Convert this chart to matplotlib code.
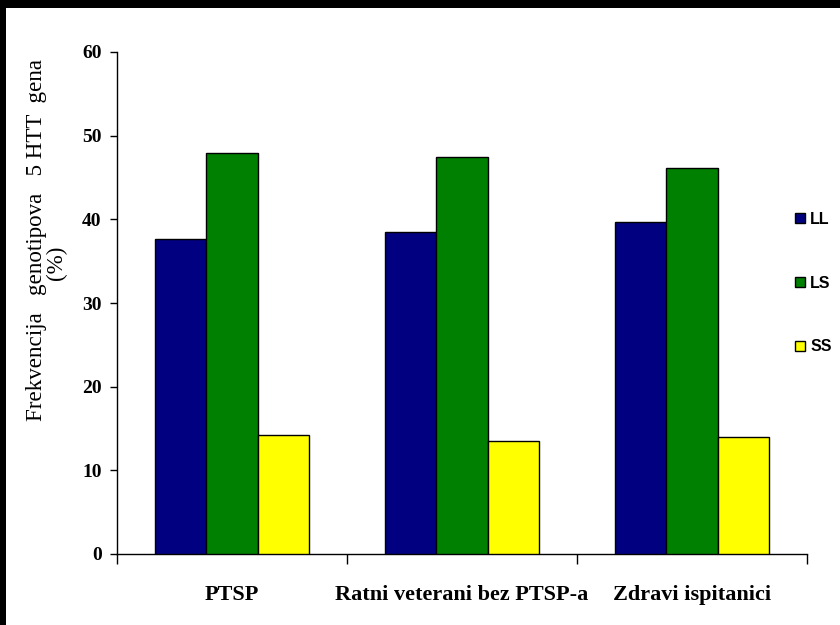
import matplotlib
matplotlib.use("Agg")
import matplotlib.pyplot as plt
import numpy as np
from matplotlib.patches import Rectangle

categories = ["PTSP", "Ratni veterani bez PTSP-a", "Zdravi ispitanici"]
series_names = ["LL", "LS", "SS"]
LL = [37.6, 38.5, 39.7]
LS = [47.9, 47.5, 46.1]
SS = [14.2, 13.5, 14.0]
yticks = [0, 10, 20, 30, 40, 50, 60]
colors = ["#000080", "#008000", "#FFFF00"]

fig = plt.figure(figsize=(8.4, 6.25), dpi=100)
fig.patch.set_facecolor("white")
# black frame on top and left
fig.patches.append(Rectangle((0, 1 - 8 / 625), 1, 8 / 625, transform=fig.transFigure,
                             facecolor="black", edgecolor="none", zorder=10))
fig.patches.append(Rectangle((0, 0), 6 / 840, 1, transform=fig.transFigure,
                             facecolor="black", edgecolor="none", zorder=10))

ax = fig.add_axes([117 / 840, 71 / 625, (807 - 117) / 840, (554 - 52) / 625])

x = np.arange(len(categories))
w = 1 / 4.5
for i, (vals, name, c) in enumerate(zip([LL, LS, SS], series_names, colors)):
    ax.bar(x + (i - 1) * w, vals, width=w, color=c, edgecolor="black",
           linewidth=1.0, label=name, zorder=3)

ax.set_xlim(-0.5, 2.5)
ax.set_ylim(0, 60)
ax.set_yticks(yticks)
ax.set_yticklabels([str(t) for t in yticks], fontfamily="Liberation Serif",
                   fontweight="bold", fontsize=14)
ax.tick_params(axis="y", direction="out", length=5, width=1, pad=6)

ax.set_xticks(x)
ax.set_xticklabels(categories, fontfamily="Liberation Serif", fontweight="bold", fontsize=16)
ax.tick_params(axis="x", which="major", length=0, pad=22)
ax.set_xticks([-0.5, 0.5, 1.5, 2.5], minor=True)
ax.tick_params(axis="x", which="minor", direction="out", length=7, width=1)

for s in ["top", "right"]:
    ax.spines[s].set_visible(False)
for s in ["left", "bottom"]:
    ax.spines[s].set_linewidth(1)

fig.text(37 / 840, 1 - 240 / 625, "Frekvencija   genotipova   5 HTT  gena",
         rotation=90, ha="center", va="center", fontfamily="Liberation Serif",
         fontsize=16.6)
fig.text(56 / 840, 1 - 263 / 625, "(%)", rotation=90, ha="center", va="center",
         fontfamily="Liberation Serif", fontsize=16.6)

leg = ax.legend(loc="center left", bbox_to_anchor=(795 / 840, 1 - 283 / 625),
                bbox_transform=fig.transFigure, frameon=False, borderpad=0,
                borderaxespad=0,
                prop={"family": ["Liberation Sans Narrow", "Liberation Sans"],
                      "weight": "bold", "size": 11.5},
                handlelength=0.6, handleheight=0.6, handletextpad=0.35,
                labelspacing=3.05)

fig.savefig("out.png", dpi=100)
